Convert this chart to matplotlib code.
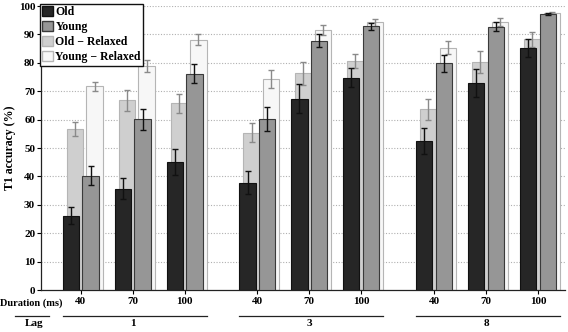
import matplotlib
matplotlib.use("Agg")
import matplotlib.pyplot as plt
from matplotlib.patches import Patch
import numpy as np

lags = ["1", "3", "8"]
durations = ["40", "70", "100"]

old = [26.1, 35.7, 45.1, 37.8, 67.4, 74.8, 52.5, 73.0, 85.3]
old_err = [3.0, 3.6, 4.7, 4.0, 5.1, 3.4, 4.7, 4.9, 3.2]
young = [40.2, 60.1, 76.2, 60.2, 87.8, 92.8, 79.8, 92.7, 97.1]
young_err = [3.4, 3.6, 3.3, 4.1, 2.2, 1.3, 3.0, 1.6, 0.4]
old_rel = [56.6, 66.8, 65.7, 55.4, 76.3, 80.5, 63.6, 80.4, 88.3]
old_rel_err = [2.5, 3.6, 3.3, 3.4, 4.0, 2.5, 3.75, 3.9, 2.6]
young_rel = [71.7, 78.8, 88.1, 74.2, 91.5, 94.2, 85.3, 94.4, 97.6]
young_rel_err = [1.7, 2.1, 1.9, 3.2, 1.8, 1.3, 2.3, 1.4, 0.35]

plt.rcParams['font.family'] = ['Liberation Serif', 'DejaVu Serif']
plt.rcParams['font.weight'] = 'bold'

W, H = 568, 332
fig = plt.figure(figsize=(W / 100, H / 100), dpi=100)
ax_l, ax_r, ax_b, ax_t = 40.7, 565, 290, 6
ax = fig.add_axes([ax_l / W, 1 - ax_b / H, (ax_r - ax_l) / W, (ax_b - ax_t) / H])

pos = np.array([g * 3.4 + d for g in range(3) for d in range(3)])
bw = 0.31
off = 0.19
sh = 0.077

c_old, c_young, c_orel, c_yrel = '#262626', '#969696', '#cfcfcf', '#f7f7f7'

ekw_dark = dict(ecolor='#111111', elinewidth=1.0, capsize=2.5, capthick=1.0)
ekw_light = dict(ecolor='#8a8a8a', elinewidth=1.0, capsize=2.5, capthick=1.0)

ax.bar(pos - off + sh, old_rel, bw, color=c_orel, edgecolor='#b5b5b5', linewidth=0.8,
       yerr=old_rel_err, error_kw=ekw_light, zorder=2)
ax.bar(pos + off + sh, young_rel, bw, color=c_yrel, edgecolor='#b5b5b5', linewidth=0.8,
       yerr=young_rel_err, error_kw=ekw_light, zorder=2)
ax.bar(pos - off, old, bw, color=c_old, edgecolor='#111111', linewidth=0.8,
       yerr=old_err, error_kw=ekw_dark, zorder=3)
ax.bar(pos + off, young, bw, color=c_young, edgecolor='#3a3a3a', linewidth=0.8,
       yerr=young_err, error_kw=ekw_dark, zorder=3)

x0 = -40.0 / 52
x1 = 8.8 + 27.0 / 52
ax.set_xlim(x0, x1)
ax.set_ylim(0, 100)
ax.set_yticks(np.arange(0, 101, 10))
ax.set_yticklabels([str(v) for v in range(0, 101, 10)], fontsize=8, fontweight='bold')
for v in range(10, 101, 10):
    ax.axhline(v, color='#b0b0b0', linestyle=(0, (1, 1.5)), linewidth=0.8, zorder=0)

ax.set_xticks(pos)
ax.set_xticklabels(durations * 3, fontsize=8, fontweight='bold')
ax.tick_params(axis='x', length=3, width=0.8, pad=2)
ax.tick_params(axis='y', length=3, width=0.8, pad=1)
for s in ['top', 'right']:
    ax.spines[s].set_visible(False)
for s in ['left', 'bottom']:
    ax.spines[s].set_linewidth(0.9)
    ax.spines[s].set_color('#222222')

ax.set_ylabel('T1 accuracy (%)', fontsize=8.5, fontweight='bold', labelpad=2)

# bottom annotations
def fy(py):
    return 1 - py / H

fig.text(0.5 / W, fy(303), 'Duration (ms)', ha='left', va='center', fontsize=7.5, fontweight='bold')
fig.text(34 / W, fy(323), 'Lag', ha='center', va='center', fontsize=8, fontweight='bold')
fig.add_artist(plt.Line2D([15 / W, 49 / W], [fy(316), fy(316)], color='#222222', linewidth=0.9))

trans = ax.get_xaxis_transform()
line_y = -(316 - ax_b) / (ax_b - ax_t)
text_y = -(323 - ax_b) / (ax_b - ax_t)
for g, lab in enumerate(lags):
    a = pos[g * 3] - off - bw / 2
    b = pos[g * 3 + 2] + off + sh + bw / 2
    ax.plot([a, b], [line_y, line_y], transform=trans, color='#222222', linewidth=0.9, clip_on=False)
    ax.text(pos[g * 3 + 1], text_y, lab, transform=trans, ha='center', va='center',
            fontsize=8, fontweight='bold')

handles = [Patch(facecolor=c_old, edgecolor='#111111', label='Old'),
           Patch(facecolor=c_young, edgecolor='#3a3a3a', label='Young'),
           Patch(facecolor=c_orel, edgecolor='#b5b5b5', label='Old \u2212 Relaxed'),
           Patch(facecolor=c_yrel, edgecolor='#b5b5b5', label='Young \u2212 Relaxed')]
leg = fig.legend(handles=handles, loc='upper left', bbox_to_anchor=(40 / W, fy(4)),
                 frameon=True, fancybox=False, edgecolor='#111111', framealpha=1,
                 prop={'size': 8.5, 'weight': 'bold'}, handlelength=0.9, handleheight=0.9,
                 handletextpad=0.2, borderpad=0.2, labelspacing=0.25, borderaxespad=0)
leg.get_frame().set_linewidth(1.0)

fig.savefig('out.png', dpi=100)
